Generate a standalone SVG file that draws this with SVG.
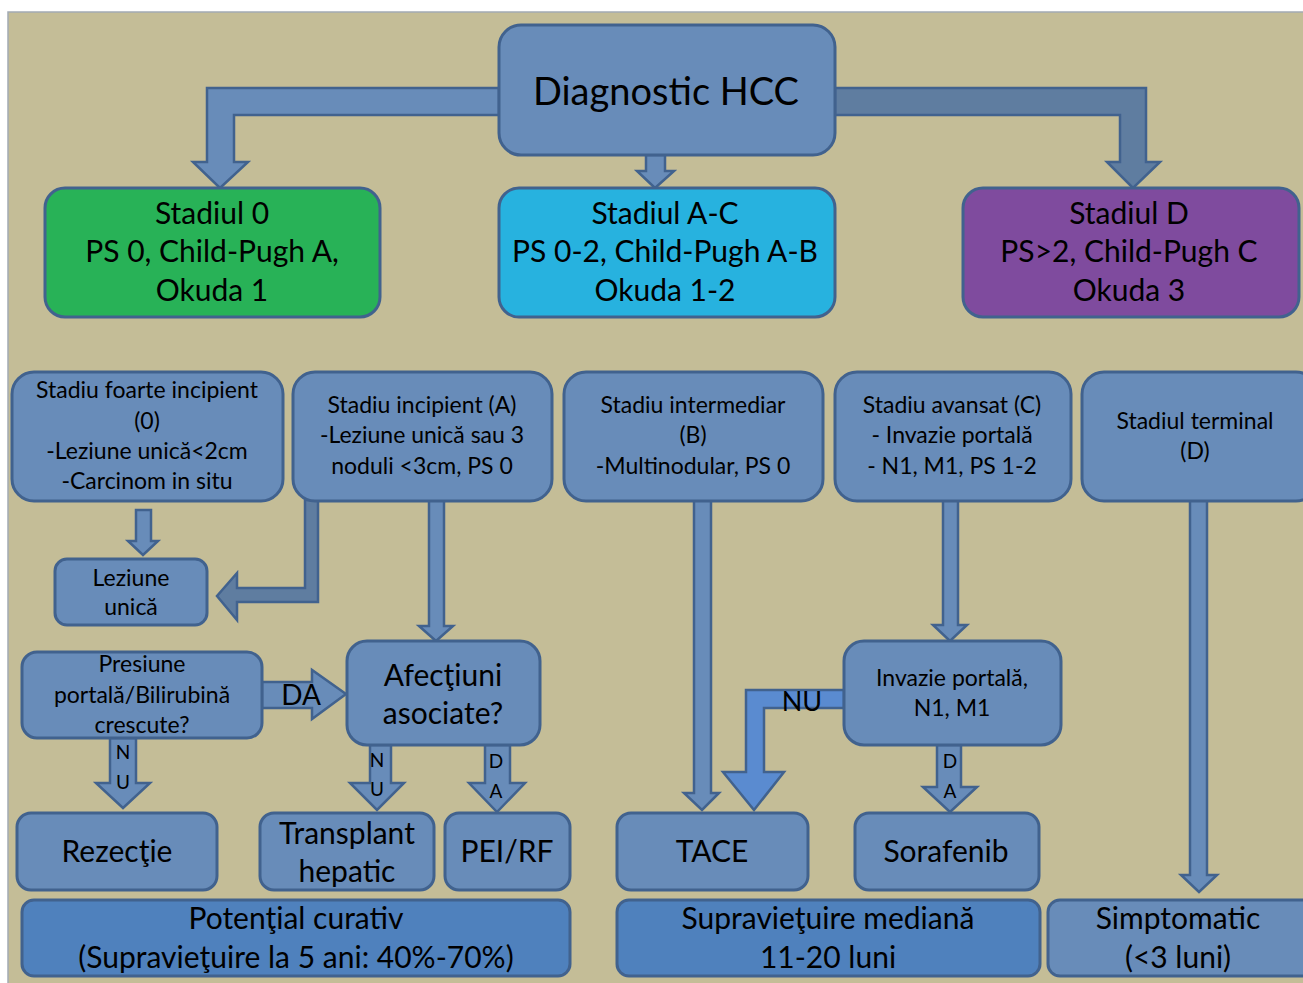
<svg xmlns="http://www.w3.org/2000/svg" width="1303" height="983" viewBox="0 0 1303 983">
<style>
.bg{fill:#C4BD97;stroke:#A3AAB4;stroke-width:1.5}
.n{fill:#688CB9;stroke:#41628E;stroke-width:3}
.o{fill:#4F81BD;stroke:#41628E;stroke-width:3}
.g{fill:#28B257;stroke:#41628E;stroke-width:3}
.c{fill:#27B2DF;stroke:#41628E;stroke-width:3}
.p{fill:#7F4B9E;stroke:#41628E;stroke-width:3}
.a{fill:#688CB9;stroke:#41628E;stroke-width:2.5;stroke-linejoin:miter}
.ad{fill:#5F7DA0;stroke:#41628E;stroke-width:2.5}
.ab{fill:#5A8BD0;stroke:#41628E;stroke-width:2.5}
text{font-family:Lato,"Open Sans","Liberation Sans",sans-serif;fill:#000;text-anchor:middle}
.t38{font-size:38px}
.t28{font-size:30px}
.t21{font-size:23px}
.t19{font-size:19px}
</style>
<rect class="bg" x="8" y="12" width="1300" height="976"/>
<g id="connectors">
<path class="a" d="M499 88 L207 88 L207 162 L193 162 L220 188 L248 162 L234 162 L234 115 L499 115 Z"/>
<path class="a" d="M646 155 L665 155 L665 171 L674 171 L655 188 L637 171 L646 171 Z"/>
<path class="ad" d="M835 88 L1146 88 L1146 162 L1160 162 L1133 188 L1107 162 L1120 162 L1120 115 L835 115 Z"/>
<path class="a" d="M136 510 L151 510 L151 541 L158 541 L143 555 L128 541 L136 541 Z"/>
<path class="ad" d="M305 500 L318 500 L318 602 L237 602 L237 620 L217 596 L237 573 L237 588 L305 588 Z"/>
<path class="a" d="M429 500 L444 500 L444 626 L453 626 L436 641 L419 626 L429 626 Z"/>
<path class="a" d="M262 682 L312 682 L312 670 L346 694 L312 719 L312 708 L262 708 Z"/>
<path class="a" d="M110 738 L136 738 L136 783 L150 783 L123 808 L96 783 L110 783 Z"/>
<path class="a" d="M370 745 L391 745 L391 783 L404 783 L377 810 L350 783 L370 783 Z"/>
<path class="a" d="M485 745 L510 745 L510 783 L525 783 L497 812 L469 783 L485 783 Z"/>
<path class="a" d="M694 500 L711 500 L711 793 L719 793 L702 810 L684 793 L694 793 Z"/>
<path class="a" d="M943 500 L958 500 L958 625 L967 625 L950 641 L933 625 L943 625 Z"/>
<path class="a" d="M1190 500 L1207 500 L1207 875 L1217 875 L1199 892 L1181 875 L1190 875 Z"/>
<path class="ab" d="M844 690 L746 690 L746 772 L723 772 L754 810 L784 772 L764 772 L764 708 L844 708 Z"/>
<path class="a" d="M937 745 L961 745 L961 787 L977 787 L950 812 L923 787 L937 787 Z"/>
<text x="301" y="705" style="font-size:28px">DA</text>
<text class="t19" x="123" y="759">N</text>
<text class="t19" x="123" y="789">U</text>
<text class="t19" x="377" y="767">N</text>
<text class="t19" x="377" y="796">U</text>
<text class="t19" x="496" y="768">D</text>
<text class="t19" x="496" y="798">A</text>
<text x="802" y="711" style="font-size:27px">NU</text>
<text class="t19" x="950" y="768">D</text>
<text class="t19" x="950" y="798">A</text>
</g>
<g id="diag"><rect class="n" x="499" y="25" width="336" height="130" rx="22"/><text class="t38" x="666" y="105">Diagnostic HCC</text></g>
<g id="st0"><rect class="g" x="45" y="188" width="335" height="129" rx="20"/><text class="t28" x="212" y="224">Stadiul 0</text><text class="t28" x="212" y="262">PS 0, Child-Pugh A,</text><text class="t28" x="212" y="301">Okuda 1</text></g>
<g id="stAC"><rect class="c" x="499" y="188" width="336" height="129" rx="20"/><text class="t28" x="665" y="224">Stadiul A-C</text><text class="t28" x="665" y="262">PS 0-2, Child-Pugh A-B</text><text class="t28" x="665" y="301">Okuda 1-2</text></g>
<g id="stD"><rect class="p" x="963" y="188" width="336" height="129" rx="20"/><text class="t28" x="1129" y="224">Stadiul D</text><text class="t28" x="1129" y="262">PS&gt;2, Child-Pugh C</text><text class="t28" x="1129" y="301">Okuda 3</text></g>
<g id="s0"><rect class="n" x="12" y="372" width="271" height="129" rx="22"/><text class="t21" x="147" y="398">Stadiu foarte incipient</text><text class="t21" x="147" y="429">(0)</text><text class="t21" x="147" y="459">-Leziune unică&lt;2cm</text><text class="t21" x="147" y="489">-Carcinom in situ</text></g>
<g id="sA"><rect class="n" x="293" y="372" width="259" height="129" rx="22"/><text class="t21" x="422" y="413">Stadiu incipient (A)</text><text class="t21" x="422" y="443">-Leziune unică sau 3</text><text class="t21" x="422" y="474">noduli &lt;3cm, PS 0</text></g>
<g id="sB"><rect class="n" x="564" y="372" width="259" height="129" rx="22"/><text class="t21" x="693" y="413">Stadiu intermediar</text><text class="t21" x="693" y="443">(B)</text><text class="t21" x="693" y="474">-Multinodular,  PS 0</text></g>
<g id="sC"><rect class="n" x="835" y="372" width="236" height="129" rx="22"/><text class="t21" x="952" y="413">Stadiu avansat (C)</text><text class="t21" x="952" y="443">- Invazie portală</text><text class="t21" x="952" y="474">- N1, M1, PS 1-2</text></g>
<g id="sD"><rect class="n" x="1082" y="372" width="236" height="129" rx="22"/><text class="t21" x="1195" y="429">Stadiul terminal</text><text class="t21" x="1195" y="459">(D)</text></g>
<g id="lez"><rect class="n" x="55" y="559" width="152" height="66" rx="12"/><text class="t21" x="131" y="586">Leziune</text><text class="t21" x="131" y="615">unică</text></g>
<g id="pres"><rect class="n" x="22" y="652" width="240" height="86" rx="15"/><text class="t21" x="142" y="672">Presiune</text><text class="t21" x="142" y="703">portală/Bilirubină</text><text class="t21" x="142" y="733">crescute?</text></g>
<g id="afec"><rect class="n" x="347" y="641" width="193" height="104" rx="20"/><text class="t28" x="443" y="686">Afecţiuni</text><text class="t28" x="443" y="724">asociate?</text></g>
<g id="inv"><rect class="n" x="844" y="641" width="217" height="104" rx="20"/><text class="t21" x="952" y="686">Invazie portală,</text><text class="t21" x="952" y="716">N1, M1</text></g>
<g id="rez"><rect class="n" x="17" y="813" width="200" height="77" rx="14"/><text class="t28" x="117" y="862">Rezecţie</text></g>
<g id="trans"><rect class="n" x="260" y="813" width="174" height="77" rx="14"/><text class="t28" x="347" y="844">Transplant</text><text class="t28" x="347" y="882">hepatic</text></g>
<g id="pei"><rect class="n" x="445" y="813" width="125" height="77" rx="14"/><text class="t28" x="507" y="862">PEI/RF</text></g>
<g id="tace"><rect class="n" x="617" y="813" width="191" height="77" rx="14"/><text class="t28" x="712" y="862">TACE</text></g>
<g id="sora"><rect class="n" x="855" y="813" width="184" height="77" rx="14"/><text class="t28" x="946" y="862">Sorafenib</text></g>
<g id="pot"><rect class="o" x="22" y="900" width="548" height="76" rx="12"/><text class="t28" x="296" y="929">Potenţial curativ</text><text class="t28" x="296" y="968">(Supravieţuire la 5 ani: 40%-70%)</text></g>
<g id="supr"><rect class="o" x="617" y="900" width="423" height="76" rx="12"/><text class="t28" x="828" y="929">Supravieţuire mediană</text><text class="t28" x="828" y="968">11-20 luni</text></g>
<g id="simp"><rect class="n" x="1048" y="900" width="270" height="76" rx="12"/><text class="t28" x="1178" y="929">Simptomatic</text><text class="t28" x="1178" y="968">(&lt;3 luni)</text></g>
</svg>
